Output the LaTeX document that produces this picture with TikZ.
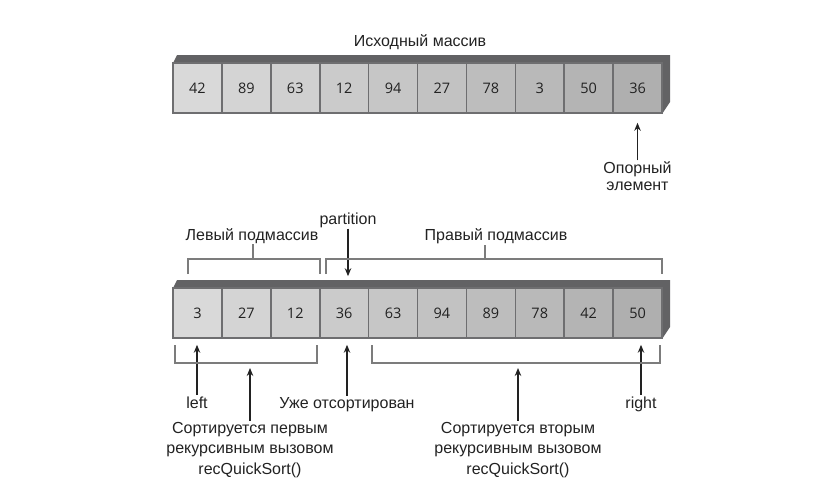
\documentclass[tikz,border=0pt]{standalone}
\usepackage{fontspec}
\setmainfont{Liberation Sans}
\newfontfamily\digitfont{Open Sans}
\usetikzlibrary{arrows.meta,positioning,calc}
\definecolor{bodygray}{HTML}{626264}
\definecolor{framegray}{HTML}{6E6E70}
\definecolor{brkgray}{HTML}{7C7C7C}
\definecolor{inkgray}{HTML}{222222}
\tikzset{
  cell/.style={draw=framegray,line width=1.6pt,minimum width=48.9pt,minimum height=50pt,
    inner sep=0pt,text=inkgray,font=\digitfont\fontsize{14.5}{17}\selectfont},
  txt/.style={font=\fontsize{16}{20.5}\selectfont,text=inkgray,inner sep=1pt,align=center},
  ptr/.style={draw=inkgray,line width=1.1pt,-{Stealth[length=8pt,width=6.5pt]}},
  brk/.style={draw=brkgray,line width=1.8pt},
}

\begin{document}
\begin{tikzpicture}[x=1pt,y=-1pt]
  \useasboundingbox (0,0) rectangle (840,488);
  % Исходный массив: корпус (верх и правый бок)
  \node[txt,anchor=base] (title) at (420,46.5) {Исходный массив};
  \fill[bodygray] (173,63) -- (177,55) -- (670,55) -- (670,102) -- (662,114) -- (662,63) -- cycle;
  \foreach \v [count=\i] in {42,89,63,12,94,27,78,3,50,36}{
    \pgfmathsetmacro\shade{85-1.8*(\i-1)}
    \node[cell,fill=white!\shade!black] (t\i) at ({173+48.9*(\i-0.5)},88) {\v};
  }
  % опорный элемент (base = последняя строка)
  \node[txt,anchor=base,font=\fontsize{16}{17}\selectfont] (pivot) at (637.5,190.5) {Опорный\\элемент};
  \draw[ptr,shorten >=9pt] (pivot) -- (pivot |- t10.south);

  % Массив после разбиения
  \fill[bodygray] (173,288) -- (177,280) -- (670,280) -- (670,327) -- (662,339) -- (662,288) -- cycle;
  \foreach \v [count=\i] in {3,27,12,36,63,94,89,78,42,50}{
    \pgfmathsetmacro\shade{85-1.8*(\i-1)}
    \node[cell,fill=white!\shade!black] (b\i) at ({173+48.9*(\i-0.5)},313) {\v};
  }
  % partition
  \node[txt,anchor=base] (part) at (348,224) {partition};
  \draw[ptr,shorten >=11pt] (part) -- (part |- b4.north);
  % скобки сверху
  \node[txt,anchor=base] (lsub) at (252,240) {Левый подмассив};
  \draw[brk] (188,274) -- (188,259) -- (320,259) -- (320,274);
  \coordinate (ltick) at (253,259);
  \draw[brk] (ltick) -- (ltick |- lsub.south);
  \node[txt,anchor=base] (rsub) at (496,240) {Правый подмассив};
  \draw[brk] (326,274) -- (326,259) -- (662,259) -- (662,274);
  \coordinate (rtick) at (485,259);
  \draw[brk] (rtick) -- (rtick |- rsub.south);

  % указатели снизу
  \node[txt,anchor=base] (lft) at (197,408) {left};
  \draw[ptr,shorten >=6pt] (lft) -- (lft |- b1.south);
  \node[txt,anchor=base] (done) at (347,408) {Уже отсортирован};
  \draw[ptr,shorten >=6pt] (done) -- (done |- b4.south);
  \node[txt,anchor=base] (rgt) at (641,408) {right};
  \draw[ptr,shorten >=6pt] (rgt) -- (rgt |- b10.south);
  % скобки снизу
  \draw[brk] (175,345) -- (175,363) -- (317,363) -- (317,345);
  \draw[brk] (372,345) -- (372,363) -- (660,363) -- (660,345);
  \coordinate (lbot) at (250,363);
  \coordinate (rbot) at (518,363);
  \node[txt,anchor=base] (first) at (250,474) {Сортируется первым\\рекурсивным вызовом\\recQuickSort()};
  \draw[ptr,shorten >=5pt] (first) -- (first |- lbot);
  \node[txt,anchor=base] (second) at (518,474) {Сортируется вторым\\рекурсивным вызовом\\recQuickSort()};
  \draw[ptr,shorten >=5pt] (second) -- (second |- rbot);
\end{tikzpicture}
\end{document}
